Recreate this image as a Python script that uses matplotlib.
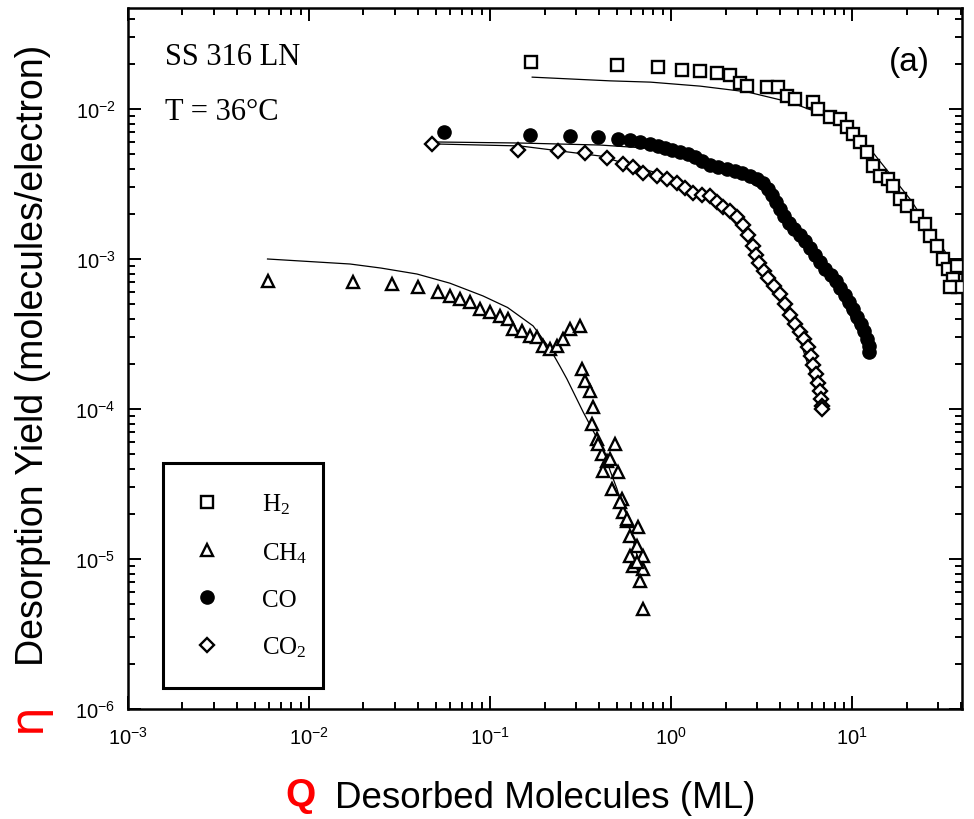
import numpy as np
import matplotlib.pyplot as plt

plt.rcParams['font.family'] = ['Liberation Sans', 'DejaVu Sans']
plt.rcParams['mathtext.default'] = 'regular'

# --- Data (Q in ML, eta in molecules/electron) ---
h2_q = [0.169, 0.50, 0.85, 1.15, 1.45, 1.8, 2.12, 2.4, 2.63, 3.39, 3.90, 4.38, 4.84, 6.09, 6.49,
        7.55, 8.59, 9.38, 10.1, 11.1, 12.1, 13.1, 14.3, 15.8, 16.9, 18.4, 20.1, 22.9, 25.3, 27.0,
        29.5, 31.8, 33.9, 36.1, 38.5, 38.0, 34.8]
h2_eta = [0.0206, 0.0196, 0.0191, 0.0182, 0.0180, 0.0174, 0.0168, 0.0149, 0.0142, 0.0140, 0.0140,
          0.0122, 0.0117, 0.0111, 0.0100, 0.00885, 0.00858, 0.00759, 0.00681, 0.00603, 0.00517,
          0.00417, 0.00357, 0.00341, 0.00307, 0.00251, 0.00226, 0.00194, 0.00171, 0.00142,
          0.00122, 0.00100, 0.000858, 0.000736, 0.000651, 0.00090, 0.00065]

ch4_q = [0.0059, 0.0175, 0.0287, 0.040, 0.0516, 0.060, 0.068, 0.0775, 0.088, 0.100, 0.1136, 0.1257,
         0.134, 0.150, 0.166, 0.182, 0.196, 0.215, 0.234, 0.253, 0.277, 0.314, 0.322, 0.335, 0.357,
         0.371, 0.366, 0.390, 0.490, 0.416, 0.443, 0.510, 0.421, 0.472, 0.536, 0.543, 0.571, 0.657,
         0.594, 0.649, 0.700, 0.617, 0.700, 0.674, 0.700, 0.395, 0.460, 0.523, 0.571, 0.594, 0.649]
ch4_eta = [7.13e-4, 7.02e-4, 6.81e-4, 6.51e-4, 6.03e-4, 5.67e-4, 5.41e-4, 5.17e-4, 4.64e-4, 4.43e-4,
           4.17e-4, 3.98e-4, 3.41e-4, 3.31e-4, 3.07e-4, 3.02e-4, 2.63e-4, 2.51e-4, 2.63e-4, 2.93e-4,
           3.41e-4, 3.58e-4, 1.85e-4, 1.54e-4, 1.32e-4, 1.03e-4, 7.94e-5, 6.31e-5, 5.85e-5, 5.01e-5,
           4.50e-5, 3.80e-5, 3.86e-5, 2.93e-5, 2.51e-5, 2.06e-5, 1.79e-5, 1.63e-5, 1.42e-5, 1.22e-5,
           1.05e-5, 8.98e-6, 8.58e-6, 7.13e-6, 4.64e-6, 5.85e-5, 4.64e-5, 2.40e-5, 1.85e-5, 1.05e-5,
           9.55e-6]

co_q = [0.0557, 0.166, 0.277, 0.395, 0.510, 0.594, 0.674, 0.766, 0.848, 0.927, 1.013, 1.121, 1.241,
        1.357, 1.484, 1.643, 1.818, 2.039, 2.257, 2.468, 2.733, 2.987, 3.224, 3.435, 3.614, 3.803,
        4.001, 4.210, 4.487, 4.783, 5.161, 5.499, 5.861, 6.246, 6.656, 7.093, 7.656, 8.158, 8.59,
        9.15, 9.63, 10.1, 10.66, 11.21, 11.65, 12.1, 12.42, 12.42]
co_eta = [7.03e-3, 6.71e-3, 6.61e-3, 6.51e-3, 6.31e-3, 6.21e-3, 6.03e-3, 5.85e-3, 5.67e-3, 5.50e-3,
          5.33e-3, 5.17e-3, 5.01e-3, 4.79e-3, 4.50e-3, 4.23e-3, 4.11e-3, 3.98e-3, 3.86e-3, 3.74e-3,
          3.57e-3, 3.41e-3, 3.21e-3, 2.93e-3, 2.67e-3, 2.40e-3, 2.15e-3, 1.935e-3, 1.738e-3, 1.585e-3,
          1.445e-3, 1.318e-3, 1.184e-3, 1.063e-3, 9.55e-4, 8.58e-4, 7.82e-4, 7.13e-4, 6.41e-4, 5.75e-4,
          5.17e-4, 4.64e-4, 4.11e-4, 3.69e-4, 3.31e-4, 2.93e-4, 2.63e-4, 2.40e-4]

co2_q = [0.0478, 0.143, 0.238, 0.335, 0.443, 0.543, 0.617, 0.700, 0.837, 0.950, 1.08, 1.20, 1.32,
         1.48, 1.64, 1.80, 1.94, 2.12, 2.32, 2.50, 2.67, 2.84, 2.95, 3.06, 3.27, 3.44, 3.71, 4.00,
         4.26, 4.54, 4.84, 5.16, 5.43, 5.71, 5.94, 6.09, 6.33, 6.49, 6.66, 6.74, 6.83, 6.83]
co2_eta = [5.85e-3, 5.33e-3, 5.25e-3, 5.09e-3, 4.71e-3, 4.30e-3, 4.11e-3, 3.74e-3, 3.57e-3, 3.41e-3,
           3.21e-3, 2.97e-3, 2.75e-3, 2.67e-3, 2.63e-3, 2.40e-3, 2.22e-3, 2.09e-3, 1.91e-3, 1.69e-3,
           1.45e-3, 1.22e-3, 1.06e-3, 9.40e-4, 8.32e-4, 7.47e-4, 6.61e-4, 5.85e-4, 5.01e-4, 4.23e-4,
           3.69e-4, 3.26e-4, 2.93e-4, 2.59e-4, 2.26e-4, 1.97e-4, 1.71e-4, 1.49e-4, 1.32e-4, 1.17e-4,
           1.05e-4, 1.00e-4]

# fitted curves (solid lines)
h2_fit_q = [0.171, 0.46, 0.77, 1.45, 2.63, 4.54, 7.55, 12.6, 20.9, 39.5]
h2_fit_eta = [0.0163, 0.0154, 0.0151, 0.0142, 0.0130, 0.0111, 0.00885, 0.0054, 0.00251, 0.000794]
ch4_fit_q = [0.0059, 0.01685, 0.025, 0.0395, 0.060, 0.0915, 0.125, 0.173, 0.215, 0.245, 0.266,
             0.327, 0.37, 0.421, 0.46, 0.503, 0.54, 0.579, 0.62, 0.657]
ch4_fit_eta = [1.0e-3, 9.26e-4, 8.7e-4, 7.94e-4, 6.9e-4, 5.67e-4, 4.75e-4, 3.58e-4, 2.51e-4, 1.9e-4,
               1.585e-4, 9.55e-5, 7.2e-5, 5.41e-5, 3.9e-5, 2.93e-5, 2.2e-5, 1.71e-5, 1.3e-5, 1.0e-5]
co_fit_q = [0.0484, 0.1465, 0.405, 0.869, 1.866, 3.52, 6.656, 12.26]
co_fit_eta = [6.03e-3, 5.93e-3, 5.75e-3, 5.41e-3, 4.30e-3, 2.71e-3, 1.0e-3, 2.51e-4]
co2_fit_q = [0.0484, 0.1465, 0.405, 0.869, 1.643, 2.733, 4.544, 6.83]
co2_fit_eta = [5.85e-3, 5.67e-3, 4.86e-3, 3.69e-3, 2.59e-3, 1.36e-3, 4.64e-4, 1.0e-4]

# --- Figure ---
fig = plt.figure(figsize=(9.74, 8.2), dpi=100)
ax = fig.add_axes([0.1314, 0.1341, 0.8563, 0.8549])

for fq, fe in [(h2_fit_q, h2_fit_eta), (ch4_fit_q, ch4_fit_eta),
               (co_fit_q, co_fit_eta), (co2_fit_q, co2_fit_eta)]:
    ax.plot(fq, fe, color='black', lw=0.9, zorder=2)

ax.plot(h2_q, h2_eta, ls='none', marker='s', ms=8, mfc='white', mec='black', mew=1.7,
        label=r'H$_2$', zorder=3)
ax.plot(ch4_q, ch4_eta, ls='none', marker='^', ms=9, mfc='white', mec='black', mew=1.7,
        label=r'CH$_4$', zorder=3)
ax.plot(co_q, co_eta, ls='none', marker='o', ms=9.5, mfc='black', mec='black', mew=1.0,
        label='CO', zorder=3)
ax.plot(co2_q, co2_eta, ls='none', marker='D', ms=7, mfc='white', mec='black', mew=1.7,
        label=r'CO$_2$', zorder=3)

ax.set_xscale('log')
ax.set_yscale('log')
ax.set_xlim(1e-3, 40.5)
ax.set_ylim(1e-6, 0.0471)

ax.tick_params(which='both', direction='in', top=True, right=True, width=1.4, labelsize=14.5)
ax.tick_params(which='major', length=9.5)
ax.tick_params(which='minor', length=5)
ax.tick_params(axis='x', pad=12)
ax.tick_params(axis='y', pad=9)
for s in ax.spines.values():
    s.set_linewidth(1.8)

# --- Legend ---
leg = ax.legend(loc='upper left', bbox_to_anchor=(0.042, 0.351, 0.192, 0.0), mode='expand',
                borderaxespad=0, numpoints=1, fancybox=False, framealpha=1, edgecolor='black',
                prop=dict(family='Liberation Serif', size=18), borderpad=1.15, handlelength=1.2,
                handletextpad=1.6, labelspacing=0.95)
leg.get_frame().set_linewidth(2.2)

# --- Annotations ---
ax.text(0.0444, 0.920, 'SS 316 LN', transform=ax.transAxes, fontsize=22,
        family='Liberation Serif', va='baseline', ha='left')
ax.text(0.0444, 0.8417, 'T = 36°C', transform=ax.transAxes, fontsize=22,
        family='Liberation Serif', va='baseline', ha='left')
ax.text(0.9616, 0.923, '(a)', transform=ax.transAxes, fontsize=24, va='center', ha='right')

fig.text(33 / 974, 1 - 355 / 820, 'Desorption Yield (molecules/electron)', rotation=90,
         fontsize=27, ha='center', va='center')
fig.text(27 / 974, 1 - 717 / 820, 'η', rotation=90, fontsize=34, color='red',
         ha='center', va='center', family='DejaVu Sans')
fig.text(285 / 974, 1 - 806 / 820, 'Q', fontsize=28, fontweight='bold', color='red',
         ha='left', va='baseline')
fig.text(335 / 974, 1 - 808 / 820, 'Desorbed Molecules (ML)', fontsize=26.5,
         ha='left', va='baseline')

fig.savefig('out.png', dpi=100)
